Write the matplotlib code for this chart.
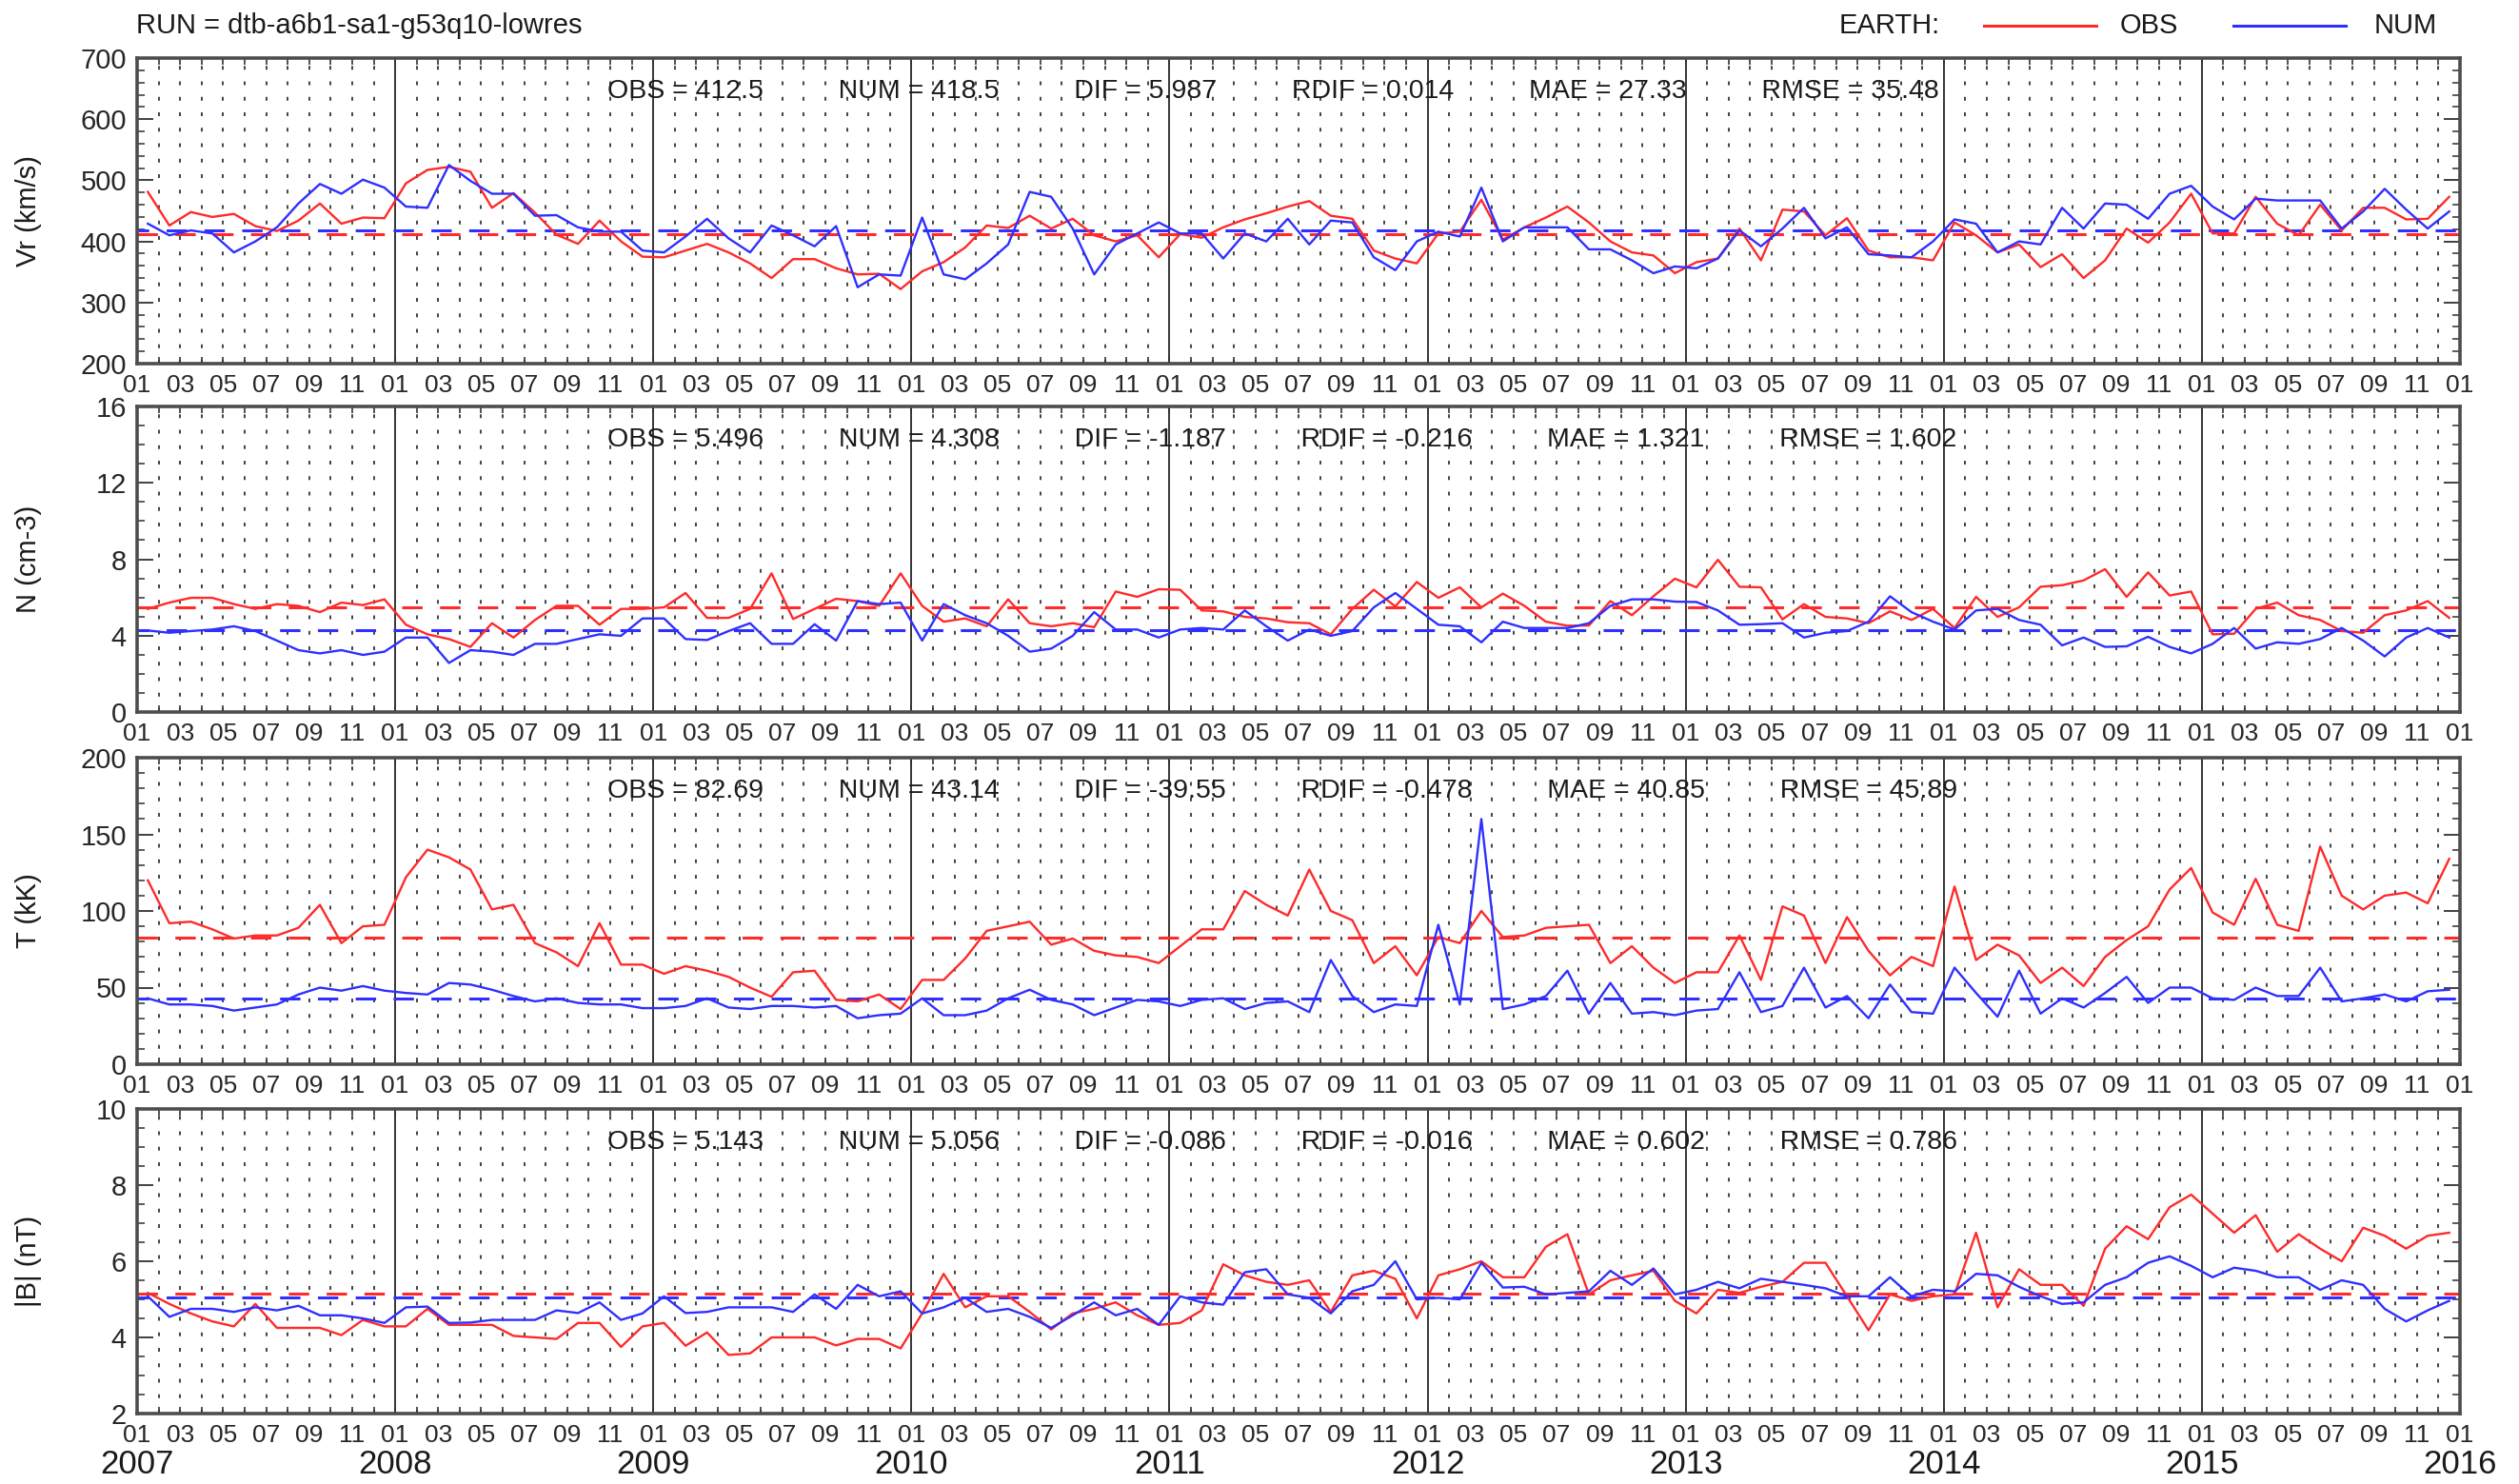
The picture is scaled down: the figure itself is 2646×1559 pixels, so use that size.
import numpy as np
import matplotlib
matplotlib.use('Agg')
import matplotlib.pyplot as plt
from matplotlib.lines import Line2D
from matplotlib.ticker import MultipleLocator

plt.rcParams['font.family'] = ['Liberation Sans', 'DejaVu Sans']

# monthly means, Jan 2007 .. Dec 2015 (one value per month)
vr_obs = [481, 426, 448, 440, 445, 425, 417, 434, 462, 429, 439, 438,
          495, 517, 522, 514, 455, 479, 447, 411, 396, 434, 400, 375,
          374, 385, 396, 382, 364, 340, 371, 371, 356, 346, 347, 322,
          351, 366, 390, 426, 422, 442, 421, 437, 410, 400, 410, 374,
          412, 406, 423, 436, 446, 457, 466, 442, 437, 385, 372, 364,
          413, 416, 468, 403, 423, 439, 457, 431, 400, 382, 377, 348,
          366, 372, 421, 369, 452, 449, 410, 438, 385, 374, 374, 369,
          431, 410, 382, 395, 358, 379, 340, 369, 421, 398, 431, 478,
          413, 413, 473, 429, 410, 460, 418, 455, 455, 436, 437, 473]
vr_num = [429, 410, 418, 413, 382, 400, 423, 462, 494, 478, 501, 488,
          457, 455, 525, 499, 478, 478, 442, 443, 423, 416, 416, 385,
          382, 408, 437, 405, 382, 426, 410, 392, 425, 325, 346, 344,
          439, 346, 338, 364, 395, 481, 473, 421, 346, 395, 413, 431,
          413, 413, 372, 413, 400, 437, 395, 434, 431, 374, 353, 400,
          416, 408, 488, 400, 423, 423, 423, 387, 387, 369, 348, 359,
          356, 372, 418, 392, 421, 455, 405, 423, 379, 377, 374, 400,
          436, 429, 382, 400, 395, 455, 421, 462, 460, 437, 478, 491,
          457, 436, 470, 467, 467, 467, 421, 449, 486, 452, 421, 449]

n_obs = [5.40, 5.73, 5.98, 5.98, 5.65, 5.40, 5.65, 5.56, 5.23, 5.73, 5.60, 5.90,
         4.57, 4.07, 3.82, 3.41, 4.65, 3.90, 4.82, 5.56, 5.56, 4.57, 5.40, 5.40,
         5.48, 6.23, 4.93, 4.93, 5.40, 7.26, 4.87, 5.40, 5.93, 5.81, 5.56, 7.26,
         5.56, 4.73, 4.90, 4.49, 5.90, 4.65, 4.49, 4.65, 4.44, 6.31, 6.03, 6.43,
         6.40, 5.32, 5.27, 4.98, 4.90, 4.70, 4.65, 4.07, 5.40, 6.40, 5.53, 6.81,
         5.98, 6.53, 5.48, 6.20, 5.56, 4.73, 4.52, 4.53, 5.81, 5.07, 6.06, 6.98,
         6.53, 7.97, 6.56, 6.53, 4.85, 5.65, 4.98, 4.90, 4.65, 5.27, 4.82, 5.40,
         4.40, 6.03, 4.98, 5.48, 6.56, 6.64, 6.89, 7.48, 6.03, 7.31, 6.10, 6.31,
         4.07, 4.10, 5.40, 5.73, 5.07, 4.82, 4.24, 4.15, 5.07, 5.32, 5.81, 4.93]
n_num = [4.27, 4.15, 4.24, 4.32, 4.49, 4.24, 3.74, 3.24, 3.07, 3.24, 2.99, 3.16,
         3.90, 3.90, 2.57, 3.24, 3.16, 2.99, 3.57, 3.57, 3.82, 4.07, 3.99, 4.90,
         4.90, 3.82, 3.77, 4.24, 4.65, 3.57, 3.57, 4.60, 3.74, 5.81, 5.65, 5.73,
         3.74, 5.65, 5.07, 4.65, 3.99, 3.16, 3.32, 3.99, 5.23, 4.32, 4.32, 3.90,
         4.32, 4.40, 4.32, 5.32, 4.49, 3.74, 4.32, 3.99, 4.24, 5.48, 6.23, 5.40,
         4.57, 4.49, 3.65, 4.73, 4.40, 4.40, 4.40, 4.65, 5.56, 5.90, 5.90, 5.78,
         5.76, 5.32, 4.57, 4.60, 4.65, 3.90, 4.15, 4.24, 4.73, 6.06, 5.23, 4.73,
         4.32, 5.32, 5.40, 4.82, 4.57, 3.49, 3.90, 3.41, 3.44, 3.94, 3.41, 3.07,
         3.57, 4.40, 3.32, 3.65, 3.57, 3.82, 4.40, 3.74, 2.91, 3.90, 4.40, 3.90]

t_obs = [120, 92, 93, 88, 82, 84, 84, 89, 104, 79, 90, 91,
         122, 140, 135, 127, 101, 104, 79, 73, 64, 92, 65, 65,
         59, 64, 61, 57, 50, 44, 60, 61, 42, 41, 45.5, 36,
         55, 55, 69, 87, 90, 93, 78, 82, 74, 71, 70, 66,
         77, 88, 88, 113, 104, 97, 127, 100, 94, 66, 77, 58,
         83, 79, 100, 83, 84, 89, 90, 91, 66, 77, 63, 53,
         60, 60, 84, 55, 103, 97, 66, 96, 74, 58, 70, 64,
         116, 68, 78, 71, 53, 63, 51, 70, 81, 90, 114, 128,
         99, 91, 121, 91, 87, 142, 110, 101, 110, 112, 105, 134]
t_num = [43, 39, 39, 38, 35, 37, 39, 45.5, 50, 48, 51, 48,
         46.5, 45.5, 53, 52, 48.6, 44.5, 41, 43, 40, 39, 39, 36.6,
         36.6, 38, 43, 37, 36, 38, 38, 37, 38, 30, 32, 33,
         43, 32, 32, 35, 43, 48.6, 42, 39, 32, 37, 42, 41,
         38, 42, 43, 36, 40, 41, 34, 68, 44.5, 34, 39, 38,
         91, 39, 160, 36, 39, 44.5, 61, 33, 53, 33, 34, 32,
         35, 36, 60, 34, 38, 63, 37, 44.5, 30, 52, 34, 33,
         63, 46.5, 31, 61, 33, 43, 37, 46.5, 57, 40, 50, 50,
         43, 42, 50, 44.5, 44.5, 63, 41, 43, 45.5, 41, 47.6, 48.6]

b_obs = [5.17, 4.88, 4.63, 4.42, 4.29, 4.88, 4.25, 4.25, 4.25, 4.06, 4.46, 4.29,
         4.29, 4.75, 4.33, 4.33, 4.33, 4.04, 4.00, 3.96, 4.38, 4.38, 3.75, 4.29,
         4.38, 3.78, 4.13, 3.54, 3.58, 4.00, 4.00, 4.00, 3.79, 3.96, 3.96, 3.71,
         4.63, 5.67, 4.79, 5.08, 5.08, 4.67, 4.21, 4.63, 4.75, 4.92, 4.58, 4.33,
         4.38, 4.71, 5.92, 5.63, 5.46, 5.38, 5.50, 4.67, 5.63, 5.75, 5.54, 4.50,
         5.63, 5.79, 6.00, 5.58, 5.58, 6.38, 6.71, 5.13, 5.50, 5.63, 5.75, 4.96,
         4.63, 5.25, 5.17, 5.33, 5.46, 5.96, 5.96, 5.08, 4.19, 5.13, 4.96, 5.08,
         5.13, 6.75, 4.79, 5.79, 5.38, 5.38, 4.83, 6.33, 6.92, 6.58, 7.42, 7.75,
         7.25, 6.75, 7.21, 6.25, 6.71, 6.33, 6.00, 6.88, 6.67, 6.33, 6.67, 6.75]
b_num = [5.08, 4.54, 4.75, 4.75, 4.67, 4.79, 4.71, 4.83, 4.58, 4.58, 4.50, 4.38,
         4.79, 4.81, 4.38, 4.39, 4.46, 4.46, 4.46, 4.71, 4.64, 4.92, 4.46, 4.63,
         5.08, 4.64, 4.67, 4.79, 4.79, 4.79, 4.67, 5.13, 4.75, 5.38, 5.08, 5.21,
         4.63, 4.79, 5.04, 4.67, 4.75, 4.54, 4.25, 4.58, 4.92, 4.58, 4.75, 4.33,
         5.08, 4.92, 4.86, 5.71, 5.79, 5.13, 5.04, 4.63, 5.21, 5.38, 6.00, 5.00,
         5.04, 5.00, 5.96, 5.31, 5.33, 5.13, 5.17, 5.21, 5.75, 5.38, 5.81, 5.13,
         5.25, 5.46, 5.29, 5.54, 5.46, 5.38, 5.29, 5.08, 5.08, 5.58, 5.08, 5.25,
         5.21, 5.67, 5.63, 5.33, 5.08, 4.88, 4.92, 5.38, 5.58, 5.96, 6.13, 5.88,
         5.58, 5.83, 5.75, 5.58, 5.58, 5.25, 5.50, 5.38, 4.75, 4.42, 4.71, 4.96]

# summary numbers printed in each panel: OBS, NUM, DIF, RDIF, MAE, RMSE
stat_names = ['OBS', 'NUM', 'DIF', 'RDIF', 'MAE', 'RMSE']
vr_stats = ['412.5', '418.5', '5.987', '0.014', '27.33', '35.48']
n_stats = ['5.496', '4.308', '-1.187', '-0.216', '1.321', '1.602']
t_stats = ['82.69', '43.14', '-39.55', '-0.478', '40.85', '45.89']
b_stats = ['5.143', '5.056', '-0.086', '-0.016', '0.602', '0.786']

ylabels = ['Vr (km/s)', 'N (cm-3)', 'T (kK)', '|B| (nT)']
yranges = [(200, 700), (0, 16), (0, 200), (2, 10)]
ymajor = [100, 4, 50, 2]
yminor = [20, 1, 10, 0.5]
years = list(range(2007, 2017))
run_name = 'RUN = dtb-a6b1-sa1-g53q10-lowres'

RED = '#ff2a2a'
BLUE = '#2f2fff'

W, H = 2646, 1559
fig = plt.figure(figsize=(W / 100, H / 100), dpi=100)

x = 2007 + (np.arange(len(vr_obs)) + 0.5) / 12.0
month_starts = 2007 + np.arange(9 * 12 + 1) / 12.0
month_labels = ['%02d' % (i % 12 + 1) if (i % 12) % 2 == 0 else '' for i in range(len(month_starts))]

left, right = 144, 2584
panel_px = [(61, 382), (427, 748), (796, 1118), (1165, 1485)]

series = [(vr_obs, vr_num, vr_stats), (n_obs, n_num, n_stats),
          (t_obs, t_num, t_stats), (b_obs, b_num, b_stats)]

for i, (obs, num, stats) in enumerate(series):
    top, bot = panel_px[i]
    ax = fig.add_axes([left / W, 1 - bot / H, (right - left) / W, (bot - top) / H])
    lo, hi = yranges[i]

    # month grid (dotted) and year separators (solid)
    ax.vlines([m for m in month_starts[1:-1] if abs(m - round(m)) > 1e-6], lo, hi,
              colors='0.2', linewidth=1.3, linestyles=(0, (2.2, 6.8)), zorder=1)
    ax.vlines(years[1:-1], lo, hi, colors='0.15', linewidth=1.3, zorder=1)

    ax.plot(x, obs, color=RED, lw=1.7, zorder=3)
    ax.plot(x, num, color=BLUE, lw=1.7, zorder=4)
    ax.axhline(float(stats[0]), color=RED, lw=2.2, ls=(0, (7, 6)), zorder=2)
    ax.axhline(float(stats[1]), color=BLUE, lw=2.2, ls=(3, (7, 6)), zorder=2)

    ax.set_xlim(2007, 2016)
    ax.set_ylim(lo, hi)
    ax.set_xticks(month_starts)
    ax.set_xticklabels(month_labels)
    ax.yaxis.set_major_locator(MultipleLocator(ymajor[i]))
    ax.yaxis.set_minor_locator(MultipleLocator(yminor[i]))
    ax.tick_params(axis='x', which='major', direction='in', length=5, width=1.2,
                   top=True, labelsize=19, pad=8, colors='0.2', labelcolor='0.15')
    ax.tick_params(axis='y', which='major', direction='in', length=12, width=1.4,
                   right=True, labelsize=21, pad=8, colors='0.25', labelcolor='0.15')
    ax.tick_params(axis='y', which='minor', direction='in', length=6, width=1.2,
                   right=True, colors='0.25')
    for sp in ax.spines.values():
        sp.set_linewidth(2.6)
        sp.set_color('0.3')

    txt = '          '.join('%s = %s' % (n, v) for n, v in zip(stat_names, stats))
    ax.text((638 - left) / (right - left), 1 - 35 / (bot - top), txt,
            transform=ax.transAxes, fontsize=20.5, color='0.1', va='center', ha='left', zorder=5)

    fig.text(30 / W, 1 - (top + bot) / 2 / H, ylabels[i], rotation=90,
             fontsize=21, color='0.1', ha='center', va='center')

    if i == 3:
        for yr in years:
            ax.text(yr, -54 / (bot - top), str(yr), transform=ax.get_xaxis_transform(),
                    fontsize=25, color='0.1', ha='center', va='center')

# header: run name and legend
fig.text(143 / W, 1 - 27 / H, run_name, fontsize=21, color='0.1', va='center', ha='left')
fig.text(1932 / W, 1 - 27 / H, 'EARTH:', fontsize=21, color='0.1', va='center', ha='left')
fig.add_artist(Line2D([2084 / W, 2202 / W], [1 - 27 / H] * 2, color=RED, lw=2.2))
fig.text(2227 / W, 1 - 27 / H, 'OBS', fontsize=21, color='0.1', va='center', ha='left')
fig.add_artist(Line2D([2346 / W, 2464 / W], [1 - 27 / H] * 2, color=BLUE, lw=2.2))
fig.text(2494 / W, 1 - 27 / H, 'NUM', fontsize=21, color='0.1', va='center', ha='left')

fig.savefig('out.png', dpi=100, facecolor='white')
